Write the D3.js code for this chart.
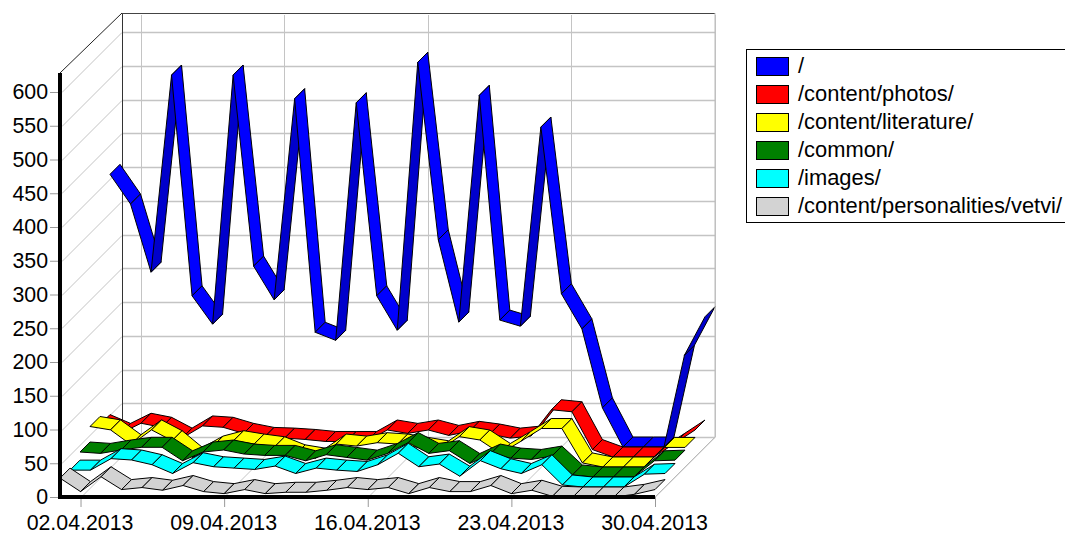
<!DOCTYPE html>
<html><head><meta charset="utf-8">
<script src="https://cdnjs.cloudflare.com/ajax/libs/d3/7.8.5/d3.min.js"></script>
<style>html,body{margin:0;padding:0;background:#fff;overflow:hidden}svg{display:block}text{font-family:"Liberation Sans",Arial,sans-serif;fill:#000}</style>
</head><body><svg id="c" width="1065" height="533"></svg>
<script>
const categories = ["01.04.2013","02.04.2013","03.04.2013","04.04.2013","05.04.2013","06.04.2013","07.04.2013","08.04.2013","09.04.2013","10.04.2013","11.04.2013","12.04.2013","13.04.2013","14.04.2013","15.04.2013","16.04.2013","17.04.2013","18.04.2013","19.04.2013","20.04.2013","21.04.2013","22.04.2013","23.04.2013","24.04.2013","25.04.2013","26.04.2013","27.04.2013","28.04.2013","29.04.2013","30.04.2013"];
const xTickLabels = ["02.04.2013","09.04.2013","16.04.2013","23.04.2013","30.04.2013"];
const yTickValues = [0,50,100,150,200,250,300,350,400,450,500,550,600];
const seriesNames = ["/","/content/photos/","/content/literature/","/common/","/images/","/content/personalities/vetvi/"];
const seriesColors = ["#0000ff","#ff0000","#ffff00","#008000","#00ffff","#d3d3d3"];
const root = [404,360,259,551,224,182,551,268,218,516,170,158,510,224,173,570,307,185,521,188,179,474,227,175,58,0,0,0,136,193];
const photos = [48,35,50,44,28,46,44,35,29,28,26,23,23,23,40,35,40,32,38,34,28,31,70,67,11,0,0,0,20,40];
const literature = [60,55,33,55,39,14,31,39,34,30,18,13,34,31,36,34,29,24,45,40,20,38,57,57,6,0,0,0,29,29];
const common = [37,35,40,44,44,24,37,40,34,32,32,24,33,29,25,35,51,35,39,20,34,28,26,31,3,0,0,0,24,25];
const images = [25,25,42,40,33,20,36,30,28,26,31,20,28,25,23,33,50,30,34,16,39,27,20,33,3,0,0,0,19,20];
const vetvi = [28,8,30,11,14,10,17,8,5,11,5,7,7,10,14,11,14,5,14,8,8,17,5,10,1,0,0,0,4,11];
const seriesValues = [root,photos,literature,common,images,vetvi];

const svg = d3.select("#c");
const L=60,R=655,B=497,T=92,D=60;
const x = d3.scalePoint().domain(categories).range([L,R]);
const y = d3.scaleLinear().domain([0,600]).range([B,T]);
const depth = d3.scaleLinear().domain([0,6]).range([0,D]); // slot from the front
const grid="#c4c4c4";
const topFront=73, topBack=13, backL=L+D+2, backR=R+D;
const ln=(a,b,c,d,col,w=1)=>svg.append("line").attr("x1",a).attr("y1",b).attr("x2",c).attr("y2",d).attr("stroke",col).attr("stroke-width",w);

// walls
yTickValues.forEach(v=>{
  const p=Math.round(y(v))+.5;
  if(v>0) ln(L+2,p,backL,p-D,grid);
  ln(backL,p-D,backR,p-D,grid,1.5);
});
xTickLabels.forEach(d=>{
  const p=Math.round(x(d))+.5;
  ln(p,B,p+D,B-D,grid);
  ln(p+D,15,p+D,B-D,grid);
});
ln(backL+.5,topBack,backL+.5,B-D,"#333");
ln(L,topFront,backL,topBack,"#222");
ln(backL,topBack+.5,backR,topBack+.5,"#444");

// ribbons, back series first
seriesValues.forEach((vals,s)=>{
  const slot=5-s, col=d3.rgb(seriesColors[s]);
  const dark=d3.rgb(col.r*.8,col.g*.8,col.b*.8).formatHex();
  const segs=d3.pairs(vals.map((v,i)=>({v,c:categories[i]})));
  svg.append("g").selectAll("path").data(segs).join("path")
    .attr("d",([a,b])=>{
      const f=depth(slot),k=depth(slot+1);
      return "M"+[[x(a.c)+f,y(a.v)-f],[x(b.c)+f,y(b.v)-f],[x(b.c)+k,y(b.v)-k],[x(a.c)+k,y(a.v)-k]].join("L")+"Z";
    })
    .attr("fill",([a,b])=>{
      const dx=x(b.c)-x(a.c), dy=y(a.v)-y(b.v);
      return dy>dx?dark:seriesColors[s];
    })
    .attr("stroke","#000").attr("stroke-width",1).attr("stroke-linejoin","round");
});

// axes
const yAxis=d3.axisLeft(y).tickValues(yTickValues).tickSize(10).tickPadding(2);
const gy=svg.append("g").attr("transform",`translate(${L},0)`).call(yAxis);
gy.select(".domain").remove();
gy.selectAll(".tick line").attr("stroke","#999");
gy.selectAll("text").attr("font-size","21.33px").attr("font-family",'"Liberation Sans"').attr("fill","#000");
const xAxis=d3.axisBottom(x).tickValues(xTickLabels).tickSize(10).tickPadding(8);
const gx=svg.append("g").attr("transform",`translate(0,${B})`).call(xAxis);
gx.select(".domain").remove();
gx.selectAll(".tick line").attr("stroke","#999");
gx.selectAll("text").attr("dx","-1").attr("font-size","21.33px").attr("font-family",'"Liberation Sans"').attr("fill","#000");
ln(L,topFront,L,B+1.5,"#000",4);
ln(L-2,B,R,B,"#000",4);
ln(R,B,backR,B-D,"#bbb");
ln(backR,topBack,backR,B-D,"#bbb");

// legend
const lg=svg.append("g");
lg.append("rect").attr("x",746.5).attr("y",49.5).attr("width",340).attr("height",173).attr("fill","#fff").attr("stroke","#000");
seriesNames.forEach((n,i)=>{
  const yy=57+i*28;
  lg.append("rect").attr("x",756.5).attr("y",yy+.5).attr("width",32).attr("height",18).attr("fill",seriesColors[i]).attr("stroke","#000");
  lg.append("text").attr("x",798).attr("y",yy+16).attr("font-size","21.9px").text(n);
});
</script></body></html>
